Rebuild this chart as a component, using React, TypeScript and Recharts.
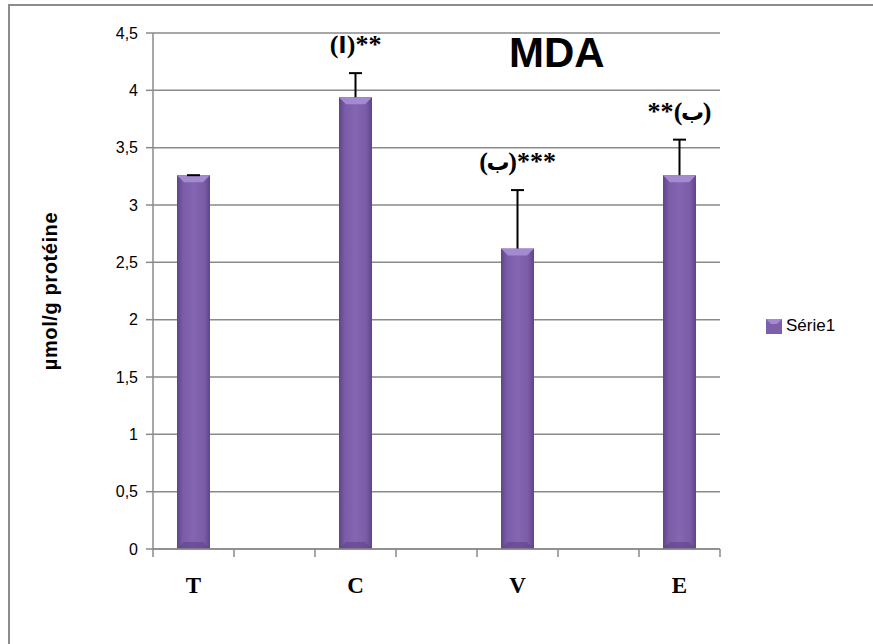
import React from 'react';
import { ComposedChart, Bar, XAxis, YAxis, CartesianGrid } from 'recharts';

const categories = ['T', '', 'C', '', 'V', '', 'E'];
const values: (number | null)[] = [3.26, null, 3.94, null, 2.62, null, 3.26];
const errors: (number | null)[] = [0, null, 0.21, null, 0.51, null, 0.31];
const annotations = ['', '', '(ا)**', '', '(ب)***', '', '**(ب)'];
const yTicks = [0, 0.5, 1, 1.5, 2, 2.5, 3, 3.5, 4, 4.5];
const seriesName = 'Série1';
const title = 'MDA';
const yLabel = 'µmol/g protéine';

const data = categories.map((c, i) => ({ cat: c, key: 'k' + i, value: values[i], err: errors[i], note: annotations[i] }));

const GRID = '#8a8a8a';
const SERIF = '"Liberation Serif", "Times New Roman", serif';

const isArabic = (ch: string) => /[\u0600-\u06FF]/.test(ch);
// approximate advance widths (px) at the annotation font size
const charWidth = (ch: string) => {
  if (ch === 'ا') return 8;
  if (ch === 'ب') return 20;
  if (ch === '(' || ch === ')') return 9;
  if (ch === '*') return 13;
  return 13;
};

const NoteText = ({ x, y, text }: { x: number; y: number; text: string }) => {
  const chars = Array.from(text);
  const total = chars.reduce((s, c) => s + charWidth(c), 0);
  let cur = x - total / 2;
  return (
    <g>
      {chars.map((ch, i) => {
        const w = charWidth(ch);
        const px = cur + w / 2;
        cur += w;
        const ar = isArabic(ch);
        return (
          <text key={i} x={px} y={y} textAnchor="middle" fill="#000"
            style={{ fontFamily: ar ? '"DejaVu Sans", sans-serif' : SERIF, fontWeight: 'bold', fontSize: ar ? 23 : 26 }}>
            {ch}
          </text>
        );
      })}
    </g>
  );
};

const BarShape = (props: any) => {
  const { x, y, width, height, payload } = props;
  if (payload.value == null || !height) return null;
  const ppu = height / payload.value;
  const cx = x + width / 2;
  const top = y - (payload.err || 0) * ppu;
  const b = 7;
  return (
    <g>
      <rect x={x} y={y} width={width} height={height} fill="url(#barGrad)" />
      <polygon points={`${x},${y} ${x + width},${y} ${x + width - b},${y + b} ${x + b},${y + b}`} fill="#a48ad0" />
      <polygon points={`${x},${y + height} ${x + width},${y + height} ${x + width - b},${y + height - b} ${x + b},${y + height - b}`} fill="#5e4487" opacity={0.6} />
      <line x1={cx} y1={y} x2={cx} y2={top} stroke="#000" strokeWidth={2} />
      <line x1={cx - 6.5} y1={top} x2={cx + 6.5} y2={top} stroke="#000" strokeWidth={2} />
      {payload.note ? <NoteText x={cx} y={top - 20} text={payload.note} /> : null}
    </g>
  );
};

const XTick = (props: any) => {
  const { x, y, payload, index } = props;
  const off = payload.offset || 0;
  const label = categories[index];
  return (
    <g>
      <line x1={x - off} y1={y - 8} x2={x - off} y2={y} stroke={GRID} strokeWidth={1.5} />
      {index === categories.length - 1 && (
        <line x1={x + off} y1={y - 8} x2={x + off} y2={y} stroke={GRID} strokeWidth={1.5} />
      )}
      <text x={x} y={y + 36} textAnchor="middle"
        style={{ fontFamily: SERIF, fontWeight: 'bold', fontSize: 23 }} fill="#000">
        {label}
      </text>
    </g>
  );
};

export default function App() {
  return (
    <div style={{ position: 'absolute', left: 0, top: 0, width: 873, height: 644, overflow: 'hidden', background: '#fff' }}>
      <div style={{ position: 'absolute', left: 8, top: 4, width: 900, height: 700, border: '2px solid #8c8c8c', boxSizing: 'border-box' }} />
      <div style={{ position: 'absolute', left: 0, top: 0 }}>
        <ComposedChart width={873} height={644} data={data} margin={{ top: 33, right: 153, bottom: 55, left: 93 }} barCategoryGap={0}>
          <defs>
            <linearGradient id="barGrad" x1="0" y1="0" x2="1" y2="0">
              <stop offset="0%" stopColor="#5f4588" />
              <stop offset="18%" stopColor="#7b5ca8" />
              <stop offset="50%" stopColor="#8465b2" />
              <stop offset="82%" stopColor="#7b5ca8" />
              <stop offset="100%" stopColor="#5f4588" />
            </linearGradient>
          </defs>
          <CartesianGrid vertical={false} stroke={GRID} strokeWidth={1.5} />
          <XAxis dataKey="key" interval={0} tickLine={false} stroke={GRID} strokeWidth={1.5} height={40} tick={<XTick />} />
          <YAxis domain={[0, 4.5]} ticks={yTicks} interval={0} width={60} stroke={GRID} strokeWidth={1.5}
            tickSize={7} tickMargin={8}
            tickFormatter={(v: number) => String(v).replace('.', ',')}
            tick={{ fill: '#000', fontSize: 16, fontFamily: '"Liberation Sans", Arial, sans-serif' }}
            label={{
              content: (p: any) => {
                const vb = p.viewBox || {};
                const cy = (vb.y || 0) + (vb.height || 0) / 2;
                return (
                  <text x={50} y={cy} transform={`rotate(-90 50 ${cy})`} textAnchor="middle" dominantBaseline="central"
                    style={{ fontFamily: '"Liberation Sans", Arial, sans-serif', fontWeight: 'bold', fontSize: 20, letterSpacing: 0.6 }} fill="#000">
                    {yLabel}
                  </text>
                );
              },
            }}
          />
          <Bar dataKey="value" name={seriesName} barSize={33} isAnimationActive={false} shape={<BarShape />} fill="#7e5fa9" />
        </ComposedChart>
      </div>
      <div style={{ position: 'absolute', left: 766, top: 316, display: 'flex', alignItems: 'center', fontFamily: '"Liberation Sans", Arial, sans-serif', fontSize: 17, color: '#000' }}>
        <svg width={16} height={15} style={{ marginRight: 4 }}>
          <rect x={0} y={0} width={16} height={15} fill="#7e5fa9" />
          <polygon points="0,0 16,0 11,5 5,5" fill="#a48ad0" />
        </svg>
        <span>{seriesName}</span>
      </div>
      <div style={{ position: 'absolute', left: 509, top: 30, fontFamily: '"Liberation Sans", Arial, sans-serif', fontWeight: 'bold', fontSize: 42, lineHeight: '46px', color: '#000' }}>
        {title}
      </div>
    </div>
  );
}
